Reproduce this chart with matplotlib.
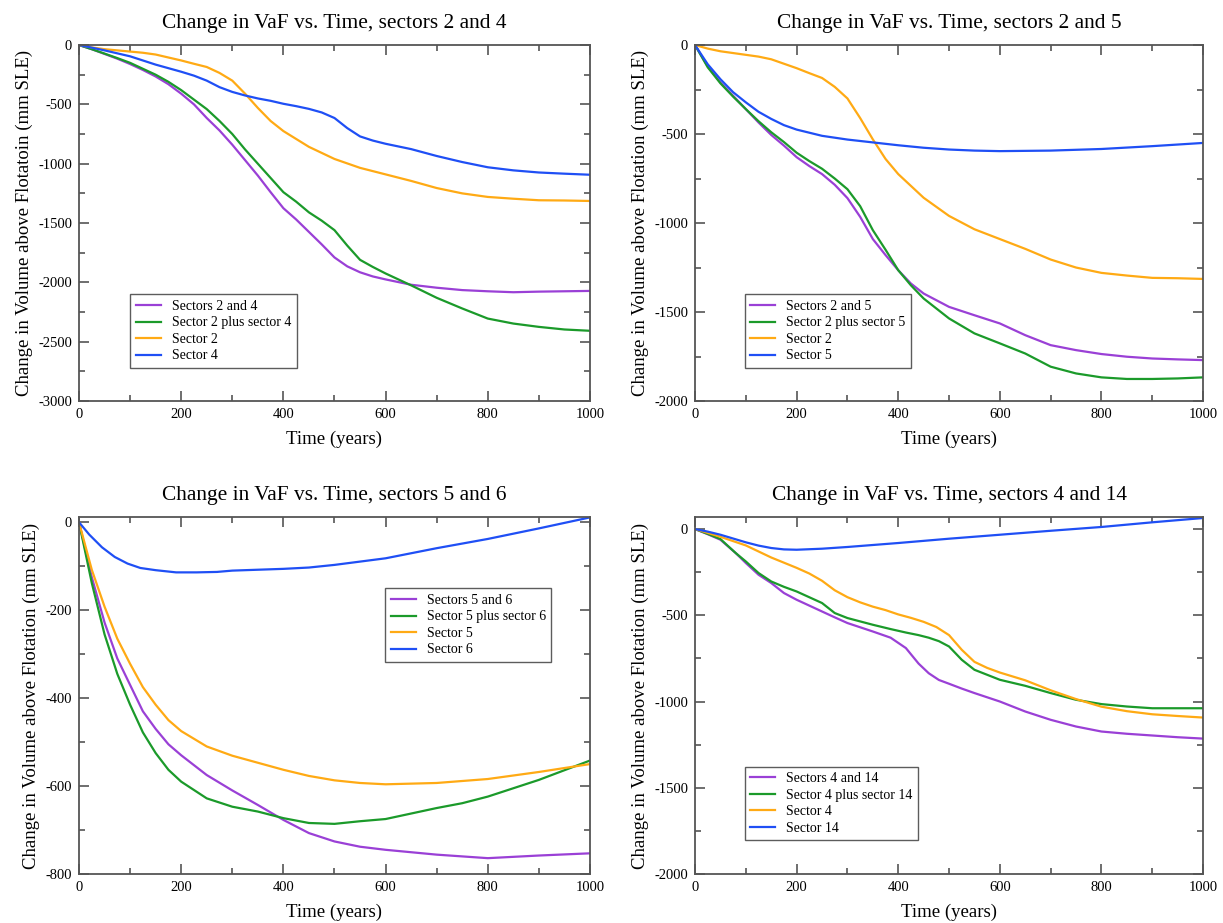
import matplotlib
matplotlib.use("Agg")
import matplotlib.pyplot as plt
from matplotlib.ticker import MultipleLocator

plt.rcParams["font.family"] = ["Liberation Serif", "DejaVu Serif"]
plt.rcParams["axes.unicode_minus"] = False

# ── Data ──────────────────────────────────────────────────────────────────────
# panel 1: sectors 2 and 4
t_24 = [0, 25, 50, 75, 100, 125, 150, 175, 200, 225, 250, 275, 300, 325, 350,
        375, 400, 425, 450, 475, 500, 525, 550, 575, 600, 650, 700, 750, 800,
        850, 900, 950, 1000]
combined_24 = [0, -35, -75, -115, -160, -210, -265, -330, -410, -500, -615,
               -720, -840, -970, -1100, -1240, -1375, -1470, -1575, -1680,
               -1790, -1865, -1915, -1950, -1975, -2020, -2045, -2065, -2075,
               -2083, -2078, -2075, -2072]
sum_24 = [0, -35, -72, -110, -150, -200, -250, -310, -380, -460, -540, -640,
          -750, -880, -1000, -1120, -1240, -1320, -1410, -1480, -1560, -1690,
          -1810, -1870, -1925, -2025, -2130, -2220, -2305, -2347, -2375, -2397,
          -2408]

# sector 2 alone (panels 1 and 2)
t_s2 = [0, 25, 50, 75, 100, 125, 150, 175, 200, 225, 250, 275, 300, 325, 350,
        375, 400, 450, 500, 550, 600, 650, 700, 750, 800, 850, 900, 950, 1000]
sector2 = [0, -20, -35, -45, -55, -65, -80, -105, -130, -158, -185, -235, -300,
           -410, -530, -640, -725, -858, -960, -1035, -1090, -1145, -1205, -1250,
           -1280, -1295, -1308, -1310, -1314]

# sector 4 alone (panels 1 and 4)
t_s4 = [0, 25, 50, 75, 100, 125, 150, 175, 200, 225, 250, 275, 300, 325, 350,
        375, 400, 425, 450, 475, 500, 525, 550, 575, 600, 650, 700, 750, 800,
        850, 900, 950, 1000]
sector4 = [0, -22, -45, -70, -95, -130, -165, -195, -225, -258, -300, -355, -395,
           -425, -450, -470, -495, -515, -538, -568, -615, -700, -770, -805, -832,
           -877, -935, -986, -1030, -1056, -1074, -1084, -1093]

# panel 2: sectors 2 and 5
t_25 = [0, 25, 50, 75, 100, 125, 150, 175, 200, 225, 250, 275, 300, 325, 350,
        375, 400, 425, 450, 500, 550, 600, 650, 700, 750, 800, 850, 900, 950, 1000]
combined_25 = [0, -120, -210, -285, -360, -435, -505, -565, -630, -680, -725,
               -785, -860, -965, -1090, -1180, -1265, -1340, -1396, -1471, -1518,
               -1564, -1630, -1686, -1714, -1736, -1751, -1761, -1766, -1770]
sum_25 = [0, -125, -215, -290, -360, -428, -490, -545, -605, -652, -695, -750,
          -810, -905, -1040, -1150, -1265, -1350, -1424, -1536, -1620, -1676,
          -1733, -1807, -1845, -1867, -1876, -1876, -1873, -1867]

# sector 5 alone (panels 2 and 3)
t_s5 = [0, 25, 50, 75, 100, 125, 150, 175, 200, 250, 300, 350, 400, 450, 500,
        550, 600, 700, 800, 900, 1000]
sector5 = [0, -108, -192, -265, -322, -375, -415, -450, -475, -510, -531, -547,
           -563, -577, -587, -593, -596, -593, -584, -568, -550]

# panel 3: sectors 5 and 6
t_56 = [0, 25, 50, 75, 100, 125, 150, 175, 200, 250, 300, 350, 400, 450, 500,
        550, 600, 700, 750, 800, 900, 1000]
combined_56 = [0, -125, -228, -310, -370, -430, -470, -505, -530, -575, -610,
               -643, -677, -707, -726, -738, -745, -756, -760, -764, -758, -753]
sum_56 = [0, -138, -255, -345, -415, -478, -525, -563, -590, -628, -647, -658,
          -673, -684, -686, -680, -675, -650, -639, -624, -586, -542]
t_s6 = [0, 20, 45, 70, 95, 120, 150, 190, 230, 270, 300, 350, 400, 450, 500,
        600, 700, 800, 900, 1000]
sector6 = [0, -28, -57, -79, -94, -104, -109, -114, -114, -113, -110, -108,
           -106, -103, -97, -82, -59, -38, -14, 11]

# panel 4: sectors 4 and 14
t_414 = [0, 25, 50, 80, 100, 125, 150, 175, 200, 250, 275, 300, 350, 385, 415,
         440, 460, 480, 500, 525, 550, 600, 650, 700, 750, 800, 850, 900, 950, 1000]
combined_414 = [0, -30, -62, -139, -197, -265, -313, -371, -410, -478, -512,
                -545, -594, -630, -690, -780, -836, -875, -897, -925, -951,
                -1000, -1058, -1106, -1145, -1174, -1187, -1197, -1207, -1215]
sum_414 = [0, -28, -58, -139, -188, -255, -304, -335, -362, -429, -487, -516,
           -555, -580, -600, -615, -630, -650, -681, -758, -816, -874, -909,
           -951, -990, -1015, -1029, -1039, -1039, -1039]
t_s14 = [0, 25, 50, 75, 100, 125, 150, 175, 200, 250, 300, 400, 500, 600, 700,
         800, 900, 1000]
sector14 = [0, -15, -33, -55, -77, -96, -110, -118, -120, -114, -104, -81, -56,
            -33, -10, 12, 39, 64]

PURPLE = "#9a40d6"
GREEN = "#1b9a2a"
ORANGE = "#ffaa14"
BLUE = "#1f4ff5"
EDGE = "#555555"

panels = [
    dict(title="Change in VaF vs. Time, sectors 2 and 4",
         ylabel="Change in Volume above Flotatoin (mm SLE)",
         ylim=(-3000, 0), ymajor=500, yminor=250,
         rect=[0.0646, 0.5655, 0.4178, 0.3857], legend_pos=(0.10, 0.093),
         series=[(t_24, combined_24, PURPLE, "Sectors 2 and 4"),
                 (t_24, sum_24, GREEN, "Sector 2 plus sector 4"),
                 (t_s2, sector2, ORANGE, "Sector 2"),
                 (t_s4, sector4, BLUE, "Sector 4")]),
    dict(title="Change in VaF vs. Time, sectors 2 and 5",
         ylabel="Change in Volume above Flotation (mm SLE)",
         ylim=(-2000, 0), ymajor=500, yminor=250,
         rect=[0.5683, 0.5655, 0.4154, 0.3857], legend_pos=(0.098, 0.093),
         series=[(t_25, combined_25, PURPLE, "Sectors 2 and 5"),
                 (t_25, sum_25, GREEN, "Sector 2 plus sector 5"),
                 (t_s2, sector2, ORANGE, "Sector 2"),
                 (t_s5, sector5, BLUE, "Sector 5")]),
    dict(title="Change in VaF vs. Time, sectors 5 and 6",
         ylabel="Change in Volume above Flotation (mm SLE)",
         ylim=(-800, 12), ymajor=200, yminor=100,
         rect=[0.0646, 0.0531, 0.4178, 0.3868], legend_pos=(0.599, 0.594),
         series=[(t_56, combined_56, PURPLE, "Sectors 5 and 6"),
                 (t_56, sum_56, GREEN, "Sector 5 plus sector 6"),
                 (t_s5, sector5, ORANGE, "Sector 5"),
                 (t_s6, sector6, BLUE, "Sector 6")]),
    dict(title="Change in VaF vs. Time, sectors 4 and 14",
         ylabel="Change in Volume above Flotation (mm SLE)",
         ylim=(-2000, 70), ymajor=500, yminor=250,
         rect=[0.5683, 0.0531, 0.4154, 0.3868], legend_pos=(0.098, 0.095),
         series=[(t_414, combined_414, PURPLE, "Sectors 4 and 14"),
                 (t_414, sum_414, GREEN, "Sector 4 plus sector 14"),
                 (t_s4, sector4, ORANGE, "Sector 4"),
                 (t_s14, sector14, BLUE, "Sector 14")]),
]

fig = plt.figure(figsize=(12.23, 9.23), dpi=100)

for p in panels:
    ax = fig.add_axes(p["rect"])
    for x, y, c, lab in p["series"]:
        ax.plot(x, y, color=c, lw=1.6, label=lab)
    ax.set_xlim(0, 1000)
    ax.set_ylim(*p["ylim"])
    ax.xaxis.set_major_locator(MultipleLocator(200))
    ax.xaxis.set_minor_locator(MultipleLocator(100))
    ax.yaxis.set_major_locator(MultipleLocator(p["ymajor"]))
    ax.yaxis.set_minor_locator(MultipleLocator(p["yminor"]))
    ax.tick_params(which="both", direction="in", top=True, right=True,
                   color=EDGE, width=1.2, labelsize=10.5, pad=5)
    ax.tick_params(which="major", length=7)
    ax.tick_params(which="minor", length=4)
    for s in ax.spines.values():
        s.set_color(EDGE)
        s.set_linewidth(1.3)
    ax.set_title(p["title"], fontsize=15.4, pad=12)
    ax.set_xlabel("Time (years)", fontsize=13.5, labelpad=7)
    ax.set_ylabel(p["ylabel"], fontsize=13.5, labelpad=4)
    leg = ax.legend(loc="lower left", bbox_to_anchor=p["legend_pos"],
                    fontsize=10, frameon=True, fancybox=False, shadow=False,
                    borderaxespad=0, handlelength=1.8, handletextpad=0.8,
                    labelspacing=0.25, borderpad=0.4)
    leg.get_frame().set_edgecolor("#333333")
    leg.get_frame().set_linewidth(1.0)

fig.savefig("out.png", dpi=100)
